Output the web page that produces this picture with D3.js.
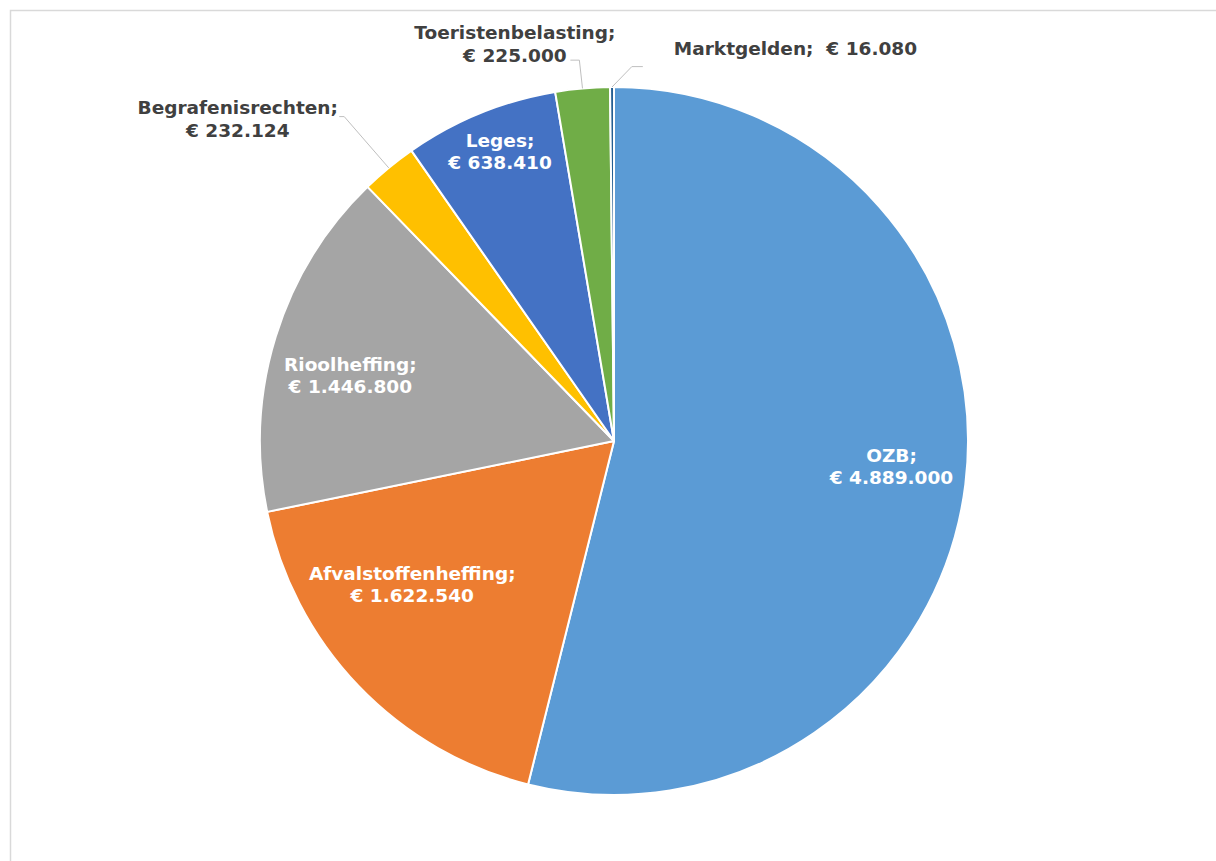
<!DOCTYPE html>
<html>
<head>
<meta charset="utf-8">
<script src="https://cdn.jsdelivr.net/npm/d3@7"></script>
<style>
  html, body { margin: 0; padding: 0; background: #ffffff; }
  svg { display: block; }
  text { font-family: "DejaVu Sans", Verdana, sans-serif; font-weight: bold; }
</style>
</head>
<body>
<svg id="chart" width="1216" height="861"></svg>
<script>
// ---- data ----
const categories = ["OZB", "Afvalstoffenheffing", "Rioolheffing", "Begrafenisrechten", "Leges", "Toeristenbelasting", "Marktgelden"];
const values = [4889000, 1622540, 1446800, 232124, 638410, 225000, 16080];
const valueLabels = ["€ 4.889.000", "€ 1.622.540", "€ 1.446.800", "€ 232.124", "€ 638.410", "€ 225.000", "€ 16.080"];

// ---- styling / layout ----
const colors = ["#5B9BD5", "#ED7D31", "#A5A5A5", "#FFC000", "#4472C4", "#70AD47", "#255E91"];
const W = 1216, H = 861;
const cx = 614, cy = 441, R = 354;
const fontSize = 18.5, lineGap = 22.5;

// inside labels: nudge from centroid at 0.75R
// outside labels: elbow = polar(mid, 1.1R) + nudge; text offset relative to elbow
const labelLayout = [
  {mode: "in",  nudge: [14, -7]},
  {mode: "in",  nudge: [-10, -40]},
  {mode: "in",  nudge: [-10, 13]},
  {mode: "out", nudge: [-22, -24], tail: -5,  text: [-106.5, 2.25], anchor: "middle", twoLine: true},
  {mode: "in",  nudge: [-13.5, -44]},
  {mode: "out", nudge: [0, 7],     tail: -9,  text: [-64.5, -16], anchor: "middle", twoLine: true},
  {mode: "out", nudge: [20, 15],   tail: 11,  text: [42, -18.5], anchor: "start", twoLine: false}
];

const svg = d3.select("#chart");

// frame
svg.append("rect")
  .attr("x", 10.5).attr("y", 10.5)
  .attr("width", W + 50).attr("height", H + 50)
  .attr("fill", "none").attr("stroke", "#d9d9d9").attr("stroke-width", 1.5);

const data = categories.map((c, i) => ({name: c, value: values[i], label: valueLabels[i], idx: i}));

const pie = d3.pie().value(d => d.value).sort(null);
const arcs = pie(data);
const arc = d3.arc().innerRadius(0).outerRadius(R);

const g = svg.append("g").attr("transform", `translate(${cx},${cy})`);

g.selectAll("path.slice")
  .data(arcs)
  .join("path")
  .attr("class", "slice")
  .attr("d", arc)
  .attr("fill", d => colors[d.data.idx])
  .attr("stroke", "#ffffff")
  .attr("stroke-width", 2)
  .attr("stroke-linejoin", "round");

function polar(a, r) { return [r * Math.sin(a), -r * Math.cos(a)]; }

arcs.forEach(d => {
  const L = labelLayout[d.data.idx];
  const mid = (d.startAngle + d.endAngle) / 2;
  if (L.mode === "in") {
    const p = polar(mid, 0.75 * R);
    const x = p[0] + L.nudge[0], y = p[1] + L.nudge[1];
    const t = g.append("text")
      .attr("text-anchor", "middle")
      .attr("font-size", fontSize)
      .attr("fill", "#ffffff");
    t.append("tspan").attr("x", x).attr("y", y - lineGap / 2).attr("dominant-baseline", "central").text(d.data.name + ";");
    t.append("tspan").attr("x", x).attr("y", y + lineGap / 2).attr("dominant-baseline", "central").text(d.data.label);
  } else {
    const edge = polar(mid, R);
    const e0 = polar(mid, 1.1 * R);
    const elbow = [e0[0] + L.nudge[0], e0[1] + L.nudge[1]];
    const tail = [elbow[0] + L.tail, elbow[1]];
    g.append("polyline")
      .attr("points", [edge, elbow, tail].map(p => p.join(",")).join(" "))
      .attr("fill", "none")
      .attr("stroke", "#bfbfbf")
      .attr("stroke-width", 1);
    const x = elbow[0] + L.text[0], y = elbow[1] + L.text[1];
    const t = g.append("text")
      .attr("text-anchor", L.anchor)
      .attr("font-size", fontSize)
      .attr("fill", "#404040");
    if (L.twoLine) {
      t.append("tspan").attr("x", x).attr("y", y - lineGap / 2).attr("dominant-baseline", "central").text(d.data.name + ";");
      t.append("tspan").attr("x", x).attr("y", y + lineGap / 2).attr("dominant-baseline", "central").text(d.data.label);
    } else {
      t.append("tspan").attr("x", x).attr("y", y).attr("dominant-baseline", "central")
        .attr("xml:space", "preserve").style("white-space", "pre")
        .text(d.data.name + ";  " + d.data.label);
    }
  }
});
</script>
</body>
</html>
